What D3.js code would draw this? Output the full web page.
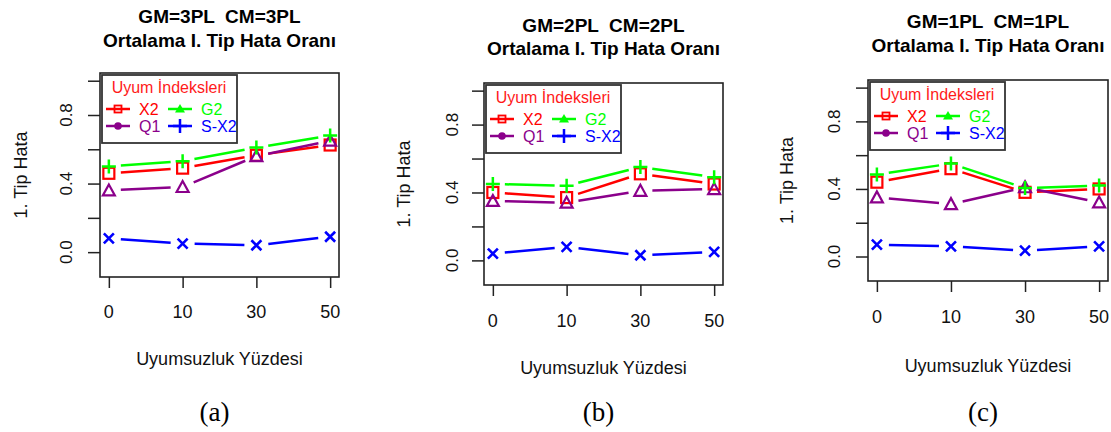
<!DOCTYPE html>
<html>
<head>
  <script src="https://d3js.org/d3.v7.min.js"></script>
  <style>
    body { margin: 0; background: #fff; }
    text { font-family: "Liberation Sans", Arial, sans-serif; white-space: pre; }
    .caption { font-family: "Liberation Serif", "Times New Roman", serif; }
  </style>
</head>
<body>
  <script>
    // Data
    const categories = ["0", "10", "30", "50"];
    const yTicks = [0, 0.2, 0.4, 0.6, 0.8, 1.0];
    const yTickLabels = [0, 0.4, 0.8];
    const titleLine1 = ["GM=3PL  CM=3PL", "GM=2PL  CM=2PL", "GM=1PL  CM=1PL"];
    const titleLine2 = "Ortalama I. Tip Hata Oranı";
    const captions = ["(a)", "(b)", "(c)"];
    const seriesNames = ["X2", "Q1", "G2", "S-X2"];

    const x2 = [[0.46, 0.49, 0.565, 0.625], [0.40, 0.37, 0.51, 0.45], [0.44, 0.52, 0.38, 0.40]];
    const q1 = [[0.36, 0.38, 0.56, 0.65], [0.35, 0.34, 0.41, 0.42], [0.35, 0.31, 0.41, 0.32]];
    const g2 = [[0.50, 0.53, 0.61, 0.68], [0.45, 0.44, 0.55, 0.49], [0.485, 0.55, 0.405, 0.42]];
    const sx2 = [[0.08, 0.05, 0.04, 0.09], [0.04, 0.08, 0.03, 0.05], [0.07, 0.06, 0.035, 0.06]];

    const colors = {"X2": "#ff0000", "Q1": "#8b008b", "G2": "#00ff00", "S-X2": "#0000ff"};
    const plotShape = {"X2": "square", "Q1": "triangle", "G2": "plus", "S-X2": "cross"};
    const legendShape = {"X2": "smallsquare", "Q1": "dot", "G2": "filltri", "S-X2": "plus"};

    // panel layout (plot box and text positions)
    const panels = [
      {left: 100, top: 73, right: 339, bottom: 277, t1: 23, t2: 47, tick: 318, xt: 365, yl: 72, yt: 27},
      {left: 484, top: 83, right: 723, bottom: 285, t1: 32, t2: 55, tick: 327, xt: 374, yl: 458, yt: 410},
      {left: 868, top: 80, right: 1108, bottom: 281, t1: 28, t2: 52, tick: 323, xt: 372, yl: 840, yt: 793}
    ];

    const svg = d3.select("body").append("svg")
      .attr("width", 1111).attr("height", 432);

    function drawSymbol(g, shape, cx, cy, color) {
      if (shape === "square") {
        g.append("rect").attr("x", cx - 5.5).attr("y", cy - 5.5).attr("width", 11).attr("height", 11)
          .attr("fill", "none").attr("stroke", color).attr("stroke-width", 2.2);
      } else if (shape === "smallsquare") {
        g.append("rect").attr("x", cx - 3.5).attr("y", cy - 3.5).attr("width", 7).attr("height", 7)
          .attr("fill", "none").attr("stroke", color).attr("stroke-width", 1.8);
      } else if (shape === "triangle") {
        g.append("path").attr("d", `M${cx - 6},${cy + 5}L${cx + 6},${cy + 5}L${cx},${cy - 6}Z`)
          .attr("fill", "none").attr("stroke", color).attr("stroke-width", 2.2);
      } else if (shape === "filltri") {
        g.append("path").attr("d", `M${cx - 5},${cy + 3.5}L${cx + 5},${cy + 3.5}L${cx},${cy - 5}Z`)
          .attr("fill", color);
      } else if (shape === "dot") {
        g.append("circle").attr("cx", cx).attr("cy", cy).attr("r", 3.8).attr("fill", color);
      } else if (shape === "plus") {
        g.append("path").attr("d", `M${cx - 7},${cy}L${cx + 7},${cy}M${cx},${cy - 7}L${cx},${cy + 7}`)
          .attr("stroke", color).attr("stroke-width", 2.5);
      } else if (shape === "cross") {
        g.append("path").attr("d", `M${cx - 5},${cy - 5}L${cx + 5},${cy + 5}M${cx - 5},${cy + 5}L${cx + 5},${cy - 5}`)
          .attr("stroke", color).attr("stroke-width", 2.6);
      }
    }

    panels.forEach(function(p, i) {
      const g = svg.append("g");
      const cx = (p.left + p.right) / 2;

      const x = d3.scalePoint().domain(categories).range([p.left, p.right]).padding(0.12);
      const y = d3.scaleLinear().domain([-0.145, 1.045]).range([p.bottom, p.top]);

      // Titles
      g.append("text").attr("x", cx).attr("y", p.t1).attr("text-anchor", "middle")
        .attr("font-size", 19).attr("font-weight", "bold").attr("fill", "#000").text(titleLine1[i]);
      g.append("text").attr("x", cx).attr("y", p.t2).attr("text-anchor", "middle")
        .attr("font-size", 19).attr("font-weight", "bold").attr("fill", "#000").text(titleLine2);

      // X axis
      const xAxis = g.append("g")
        .attr("transform", `translate(0,${p.bottom})`)
        .call(d3.axisBottom(x).tickSize(11).tickSizeOuter(0).tickPadding(0).tickFormat(""));
      xAxis.select(".domain").remove();
      xAxis.selectAll("line").attr("stroke", "#222").attr("stroke-width", 1.5);
      categories.forEach(function(c) {
        g.append("text").attr("x", x(c)).attr("y", p.tick).attr("text-anchor", "middle")
          .attr("font-size", 18).attr("fill", "#111").text(c);
      });

      // Y axis
      const yAxis = g.append("g")
        .attr("transform", `translate(${p.left},0)`)
        .call(d3.axisLeft(y).tickValues(yTicks).tickSize(12).tickSizeOuter(0).tickFormat(""));
      yAxis.select(".domain").remove();
      yAxis.selectAll("line").attr("stroke", "#222").attr("stroke-width", 1.5);
      yTickLabels.forEach(function(v) {
        g.append("text").attr("transform", `translate(${p.yl},${y(v)}) rotate(-90)`)
          .attr("text-anchor", "middle").attr("font-size", 17).attr("fill", "#111")
          .text(d3.format(".1f")(v));
      });

      // Axis titles
      g.append("text").attr("x", cx).attr("y", p.xt).attr("text-anchor", "middle")
        .attr("font-size", 18).attr("fill", "#111").text("Uyumsuzluk Yüzdesi");
      g.append("text").attr("transform", `translate(${p.yt},${(p.top + p.bottom) / 2}) rotate(-90)`)
        .attr("text-anchor", "middle").attr("font-size", 18).attr("fill", "#111").text("1. Tip Hata");

      // Caption
      g.append("text").attr("class", "caption").attr("x", cx - 5).attr("y", 421)
        .attr("text-anchor", "middle").attr("font-size", 27).attr("fill", "#000").text(captions[i]);

      // Series
      const series = {"X2": x2[i], "Q1": q1[i], "G2": g2[i], "S-X2": sx2[i]};
      ["X2", "Q1", "G2", "S-X2"].forEach(function(name) {
        const vals = series[name];
        const pts = vals.map((v, k) => [x(categories[k]), y(v)]);
        const gap = 12;
        for (let k = 0; k < pts.length - 1; k++) {
          const [x0, y0] = pts[k], [x1, y1] = pts[k + 1];
          const len = Math.hypot(x1 - x0, y1 - y0);
          const ux = (x1 - x0) / len, uy = (y1 - y0) / len;
          g.append("line")
            .attr("x1", x0 + ux * gap).attr("y1", y0 + uy * gap)
            .attr("x2", x1 - ux * gap).attr("y2", y1 - uy * gap)
            .attr("stroke", colors[name]).attr("stroke-width", 2.5);
        }
        pts.forEach(function(pt) { drawSymbol(g, plotShape[name], pt[0], pt[1], colors[name]); });
      });

      // Plot box
      g.append("rect").attr("x", p.left).attr("y", p.top)
        .attr("width", p.right - p.left).attr("height", p.bottom - p.top)
        .attr("fill", "none").attr("stroke", "#222").attr("stroke-width", 1.6);

      // Legend
      const lx = p.left + 2, ly = p.top + 2;
      const lg = g.append("g");
      lg.append("rect").attr("x", lx).attr("y", ly).attr("width", 135).attr("height", 68)
        .attr("fill", "#fff").attr("stroke", "#333").attr("stroke-width", 1.8);
      lg.append("text").attr("x", lx + 67).attr("y", ly + 18).attr("text-anchor", "middle")
        .attr("font-size", 16).attr("fill", "#ff1a1a").text("Uyum İndeksleri");
      const legendPos = {"X2": [0, 0], "Q1": [0, 1], "G2": [1, 0], "S-X2": [1, 1]};
      seriesNames.forEach(function(name) {
        const [col, row] = legendPos[name];
        const bx = lx + 4 + col * 62, by = ly + 34 + row * 17;
        lg.append("line").attr("x1", bx).attr("y1", by).attr("x2", bx + 24).attr("y2", by)
          .attr("stroke", colors[name]).attr("stroke-width", 2.5);
        drawSymbol(lg, legendShape[name], bx + 12, by, colors[name]);
        lg.append("text").attr("x", bx + 33).attr("y", by + 6)
          .attr("font-size", 16).attr("fill", colors[name]).text(name);
      });
    });
  </script>
</body>
</html>
